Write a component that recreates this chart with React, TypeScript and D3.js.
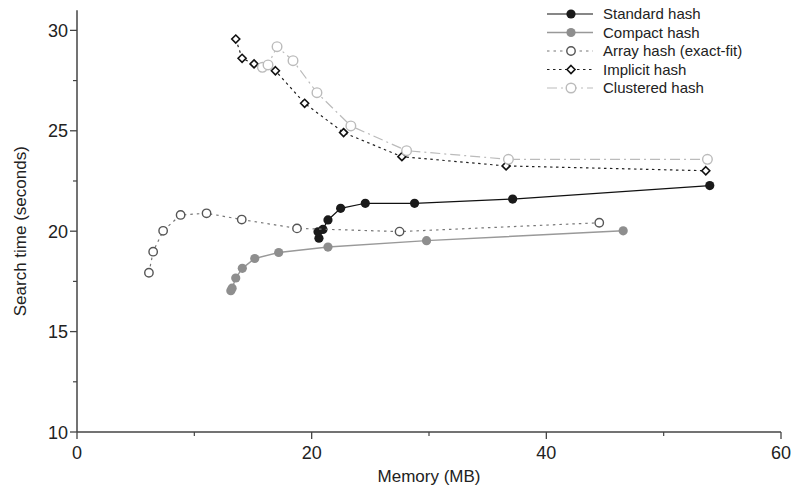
import React from "react";
import * as d3 from "d3";

type Pt = [number, number];

const standardHash: Pt[] = [
  [20.62, 19.65], [20.54, 19.97], [20.96, 20.09], [21.39, 20.56], [22.47, 21.14],
  [24.57, 21.39], [28.77, 21.39], [37.13, 21.6], [53.93, 22.27],
];
const compactHash: Pt[] = [
  [13.11, 17.04], [13.22, 17.16], [13.53, 17.67], [14.09, 18.15], [15.15, 18.64],
  [17.19, 18.94], [21.39, 19.21], [29.79, 19.53], [46.55, 20.02],
];
const arrayHash: Pt[] = [
  [6.13, 17.93], [6.49, 18.98], [7.34, 20.02], [8.83, 20.81], [11.04, 20.89],
  [14.04, 20.58], [18.75, 20.14], [27.49, 19.98], [44.51, 20.42],
];
const implicitHash: Pt[] = [
  [13.53, 29.57], [14.07, 28.61], [15.09, 28.33], [16.91, 27.99], [19.4, 26.37],
  [22.72, 24.91], [27.69, 23.71], [36.57, 23.25], [53.59, 23.01],
];
const clusteredHash: Pt[] = [
  [15.8, 28.16], [16.28, 28.28], [17.05, 29.19], [18.41, 28.49], [20.45, 26.9],
  [23.34, 25.24], [28.09, 24.01], [36.77, 23.58], [53.73, 23.58],
];

const xTicks = [0, 20, 40, 60];
const xMinorTicks = [10, 30, 50];
const yTicks = [10, 15, 20, 25, 30];
const yMinorTicks = [12.5, 17.5, 22.5, 27.5];

type Series = {
  name: string;
  data: Pt[];
  stroke: string;
  dash: string;
  width: number;
  marker: "filled" | "open" | "diamond";
  mColor: string;
  r: number;
};

const series: Series[] = [
  { name: "Standard hash", data: standardHash, stroke: "#111", dash: "", width: 1.2, marker: "filled", mColor: "#1a1a1a", r: 4.6 },
  { name: "Compact hash", data: compactHash, stroke: "#999", dash: "", width: 1.4, marker: "filled", mColor: "#8e8e8e", r: 4.6 },
  { name: "Array hash (exact-fit)", data: arrayHash, stroke: "#777", dash: "2.5,4", width: 1.2, marker: "open", mColor: "#555", r: 4.2 },
  { name: "Implicit hash", data: implicitHash, stroke: "#222", dash: "2.5,3.5", width: 1.2, marker: "diamond", mColor: "#111", r: 4 },
  { name: "Clustered hash", data: clusteredHash, stroke: "#bbb", dash: "10,4,2,4", width: 1.2, marker: "open", mColor: "#bbb", r: 4.8 },
];

const FONT = "'Liberation Sans', Arial, Helvetica, sans-serif";

function Marker({ s, x, y }: { s: Series; x: number; y: number }) {
  if (s.marker === "filled") return <circle cx={x} cy={y} r={s.r} fill={s.mColor} />;
  if (s.marker === "open")
    return <circle cx={x} cy={y} r={s.r} fill="#fff" stroke={s.mColor} strokeWidth={1.4} />;
  const d = s.r;
  return (
    <path
      d={`M${x},${y - d}L${x + d},${y}L${x},${y + d}L${x - d},${y}Z`}
      fill="#fff"
      stroke={s.mColor}
      strokeWidth={1.6}
    />
  );
}

export default function App() {
  const W = 792, H = 493;
  const x = d3.scaleLinear().domain([0, 60]).range([77, 781]);
  const y = d3.scaleLinear().domain([10, 31]).range([432, 10.3]);
  const line = d3.line<Pt>().x((d) => x(d[0])).y((d) => y(d[1]));
  const axisColor = "#444";

  const legendX0 = 547, legendX1 = 593, legendM = 571, legendT = 603;
  const legendY = (i: number) => 14 + i * 18.5;

  return (
    <svg width={W} height={H} style={{ position: "absolute", left: 0, top: 0, background: "#fff" }} fontFamily={FONT}>
      {/* axes */}
      <line x1={x(0)} x2={x(0)} y1={y(31)} y2={y(10)} stroke={axisColor} strokeWidth={1.5} />
      <line x1={x(0)} x2={x(60)} y1={y(10)} y2={y(10)} stroke={axisColor} strokeWidth={1.5} />
      {xTicks.map((t) => (
        <g key={"xt" + t}>
          <line x1={x(t)} x2={x(t)} y1={y(10)} y2={y(10) + 7} stroke={axisColor} strokeWidth={1.3} />
          <text x={x(t)} y={459} textAnchor="middle" fontSize={18} fill="#222">{t}</text>
        </g>
      ))}
      {xMinorTicks.map((t) => (
        <line key={"xm" + t} x1={x(t)} x2={x(t)} y1={y(10)} y2={y(10) + 4} stroke={axisColor} strokeWidth={1.2} />
      ))}
      {yTicks.map((t) => (
        <g key={"yt" + t}>
          <line x1={x(0) - 7} x2={x(0)} y1={y(t)} y2={y(t)} stroke={axisColor} strokeWidth={1.3} />
          <text x={x(0) - 9} y={y(t) + 6.5} textAnchor="end" fontSize={18} fill="#222">{t}</text>
        </g>
      ))}
      {yMinorTicks.map((t) => (
        <line key={"ym" + t} x1={x(0) - 4} x2={x(0)} y1={y(t)} y2={y(t)} stroke={axisColor} strokeWidth={1.2} />
      ))}
      <text x={429} y={482} textAnchor="middle" fontSize={17} fill="#222">Memory (MB)</text>
      <text transform={`translate(26,${y(20)}) rotate(-90)`} textAnchor="middle" fontSize={17} fill="#222">
        Search time (seconds)
      </text>

      {/* series */}
      {series.map((s) => (
        <g key={s.name}>
          <path d={line(s.data) || ""} fill="none" stroke={s.stroke} strokeWidth={s.width} strokeDasharray={s.dash || undefined} />
          {s.data.map((d, i) => (
            <Marker key={i} s={s} x={x(d[0])} y={y(d[1])} />
          ))}
        </g>
      ))}

      {/* legend */}
      {series.map((s, i) => (
        <g key={"lg" + s.name}>
          <line x1={legendX0} x2={legendX1} y1={legendY(i)} y2={legendY(i)} stroke={s.stroke} strokeWidth={s.width} strokeDasharray={s.dash || undefined} />
          <Marker s={s} x={legendM} y={legendY(i)} />
          <text x={legendT} y={legendY(i) + 5} fontSize={15} fill="#222">{s.name}</text>
        </g>
      ))}
    </svg>
  );
}
